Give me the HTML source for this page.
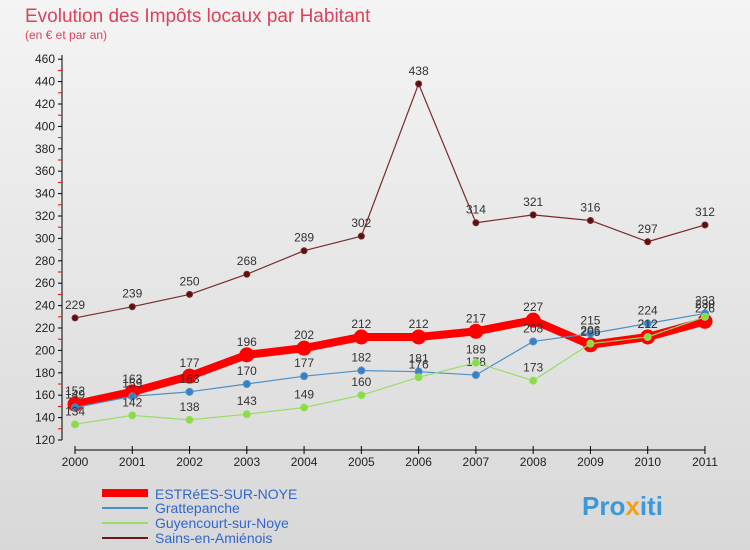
<!DOCTYPE html>
<html><head><meta charset="utf-8"><style>
body{margin:0;width:750px;height:550px;overflow:hidden;font-family:"Liberation Sans",sans-serif}
svg{display:block}
</style></head><body>
<svg id="c" width="750" height="550" xmlns="http://www.w3.org/2000/svg">
<defs><linearGradient id="bg" x1="0" y1="0" x2="0" y2="1"><stop offset="0" stop-color="#f4f4f4"/><stop offset="1" stop-color="#d8d8d8"/></linearGradient></defs>
<rect width="750" height="550" fill="url(#bg)"/>
<text x="25" y="22" font-size="19" fill="#e0405a">Evolution des Impôts locaux par Habitant</text>
<text x="25" y="39" font-size="12" fill="#e0405a">(en € et par an)</text>
<g id="axes"></g><g id="series"></g>
<g>
<line x1="102" y1="493" x2="148" y2="493" stroke="#f00" stroke-width="8"/>
<text x="155" y="499" font-size="14" fill="#3366cc">ESTRéES-SUR-NOYE</text>
<line x1="102" y1="508" x2="148" y2="508" stroke="#4a90c8" stroke-width="2"/>
<text x="155" y="513" font-size="14" fill="#3366cc">Grattepanche</text>
<line x1="102" y1="523" x2="148" y2="523" stroke="#99dd66" stroke-width="2"/>
<text x="155" y="528" font-size="14" fill="#3366cc">Guyencourt-sur-Noye</text>
<line x1="102" y1="538" x2="148" y2="538" stroke="#6b1a1a" stroke-width="2"/>
<text x="155" y="543" font-size="14" fill="#3366cc">Sains-en-Amiénois</text>
</g>
<text x="582" y="515" font-size="26" font-weight="bold" fill="#3a9ad9">Pro<tspan fill="#f0a020">x</tspan>iti</text>
</svg>
<script>
const years=["2000","2001","2002","2003","2004","2005","2006","2007","2008","2009","2010","2011"];
const yTicks=[120,140,160,180,200,220,240,260,280,300,320,340,360,380,400,420,440,460];
const estrees=[152,163,177,196,202,212,212,217,227,205,212,226];
const grattepanche=[149,159,163,170,177,182,181,178,208,215,224,233];
const guyencourt=[134,142,138,143,149,160,176,189,173,206,212,230];
const sains=[229,239,250,268,289,302,438,314,321,316,297,312];
const NS="http://www.w3.org/2000/svg";
const X=i=>75+i*57.27, Y=v=>440-(v-120)*1.12;
function mk(t,a,p){const e=document.createElementNS(NS,t);for(const k in a)e.setAttribute(k,a[k]);p.appendChild(e);return e;}
const ax=document.getElementById('axes');
const yl=mk('line',{x1:62,y1:55,x2:62,y2:440,stroke:'#000'},ax);


yTicks.forEach(v=>{
 mk('line',{x1:58,y1:Y(v),x2:62,y2:Y(v),stroke:'#000'},ax);
 if(v<460) mk('line',{x1:58,y1:Y(v+10),x2:62,y2:Y(v+10),stroke:'#f00'},ax);
 const t=mk('text',{x:55,y:Y(v)+4,'font-size':12,'text-anchor':'end',fill:'#222'},ax);t.textContent=v;
 
 
});
const xl=mk('line',{x1:X(0),y1:450,x2:X(11),y2:450,stroke:'#000'},ax);


years.forEach((y,i)=>{
 mk('line',{x1:X(i),y1:446,x2:X(i),y2:454,stroke:'#000'},ax);
 const t=mk('text',{x:X(i),y:466,'font-size':12,'text-anchor':'middle',fill:'#222'},ax);t.textContent=y;
 
 
});
const sg=document.getElementById('series');
function draw(d,color,w,r,fill,name){
 const g=mk('g',{},sg);
 
 
 const p=mk('polyline',{points:d.map((v,i)=>X(i)+','+Y(v)).join(' '),fill:'none',stroke:color,'stroke-width':w,'stroke-linejoin':'round'},g);
 
 
 d.forEach((v,i)=>{
  const c=mk('circle',{cx:X(i),cy:Y(v),r:r,fill:fill,stroke:color,'stroke-width':1},g);
  
  
  const t=mk('text',{x:X(i),y:Y(v)-9,'font-size':12,'text-anchor':'middle',fill:'#333'},g);t.textContent=v;
  
  
 });
}
draw(sains,'#7a2a2a',1.2,3,'#5a1010','sains');
draw(estrees,'#ff0000',8,7,'#ff0000','estrees');
draw(grattepanche,'#4a90c8',1.2,3.5,'#3a80c0','grattepanche');
draw(guyencourt,'#99dd66',1.2,3.5,'#88dd44','guyencourt');
</script>
</body></html>
